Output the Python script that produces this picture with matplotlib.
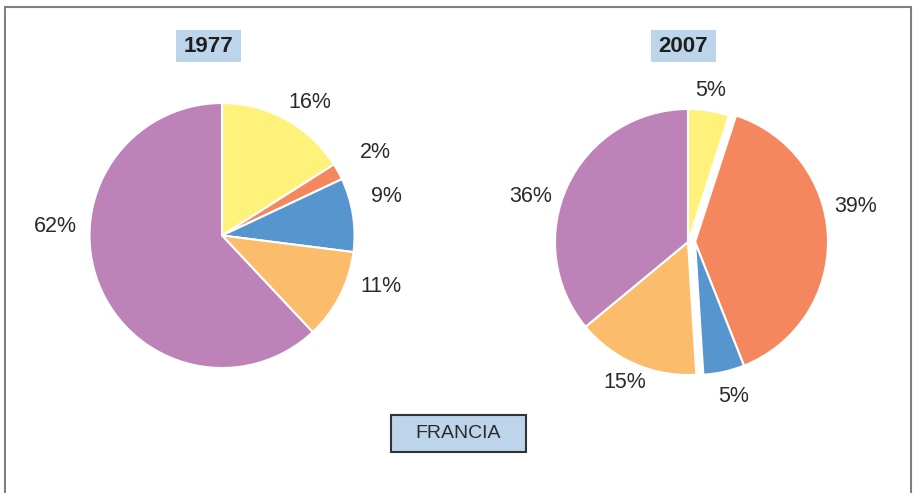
import matplotlib.pyplot as plt
from matplotlib.patches import Rectangle

plt.rcParams['font.family'] = ['Liberation Sans', 'DejaVu Sans']

settori = ['giallo', 'rosso', 'blu', 'arancio', 'viola']
valori_1977 = [16, 2, 9, 11, 62]
valori_2007 = [5, 39, 5, 15, 36]
etichette_1977 = ['16%', '2%', '9%', '11%', '62%']
etichette_2007 = ['5%', '39%', '5%', '15%', '36%']
titoli = ['1977', '2007']
paese = 'FRANCIA'

colori = ['#fff27a', '#f4875e', '#5795cf', '#fbbd6b', '#bd82b7']
testo = '#2b2b2b'
box = '#bdd5ea'

W, H = 914, 493
fig = plt.figure(figsize=(W / 100, H / 100), dpi=100)
ax = fig.add_axes([0, 0, 1, 1])

# torta 1977 (blu e rosso staccati)
c1, r1 = (222, H - 235.5), 132.5
ax.pie(valori_1977, colors=colori, startangle=90, counterclock=False,
       center=c1, radius=r1, explode=[0, 0.055, 0.055, 0, 0],
       wedgeprops=dict(edgecolor='white', linewidth=1.5))

# torta 2007 (rosso e blu spostati a destra insieme)
c2, r2 = (688, H - 242), 133
wedges, _ = ax.pie(valori_2007, colors=colori, startangle=90, counterclock=False,
                   center=c2, radius=r2,
                   wedgeprops=dict(edgecolor='white', linewidth=1.5))
for i in (1, 2):
    wedges[i].set_center((c2[0] + 7, c2[1]))

# etichette
pos_1977 = [(310, 103), (375, 152), (386, 197), (381, 287), (55, 226)]
pos_2007 = [(711, 90), (856, 207), (734, 396), (625, 382), (531, 197)]
for lab, (x, y) in zip(etichette_1977, pos_1977):
    ax.text(x, H - y, lab, ha='center', va='center', fontsize=15.5, color=testo)
for lab, (x, y) in zip(etichette_2007, pos_2007):
    ax.text(x, H - y, lab, ha='center', va='center', fontsize=15.5, color=testo)

# titoli con riquadro
for t, x0 in zip(titoli, [176, 651]):
    ax.add_patch(Rectangle((x0, H - 62), 65, 32, facecolor=box, edgecolor='none'))
    ax.text(x0 + 32.5, H - 46, t, ha='center', va='center', fontsize=16,
            fontweight='bold', color='#1e1e1e')

# riquadro paese
ax.add_patch(Rectangle((391, H - 452), 135, 37, facecolor=box,
                       edgecolor='#333333', linewidth=1.5))
ax.text(458.5, H - 433.5, paese, ha='center', va='center', fontsize=14, color=testo)

# cornice (senza lato inferiore)
ax.plot([5, 5, 911, 911], [0, H - 7, H - 7, 0], color='#808080', linewidth=1.5,
        solid_joinstyle='miter')

ax.set_xlim(0, W)
ax.set_ylim(0, H)
ax.set_aspect('equal')
ax.axis('off')

fig.savefig('out.png', dpi=100)
